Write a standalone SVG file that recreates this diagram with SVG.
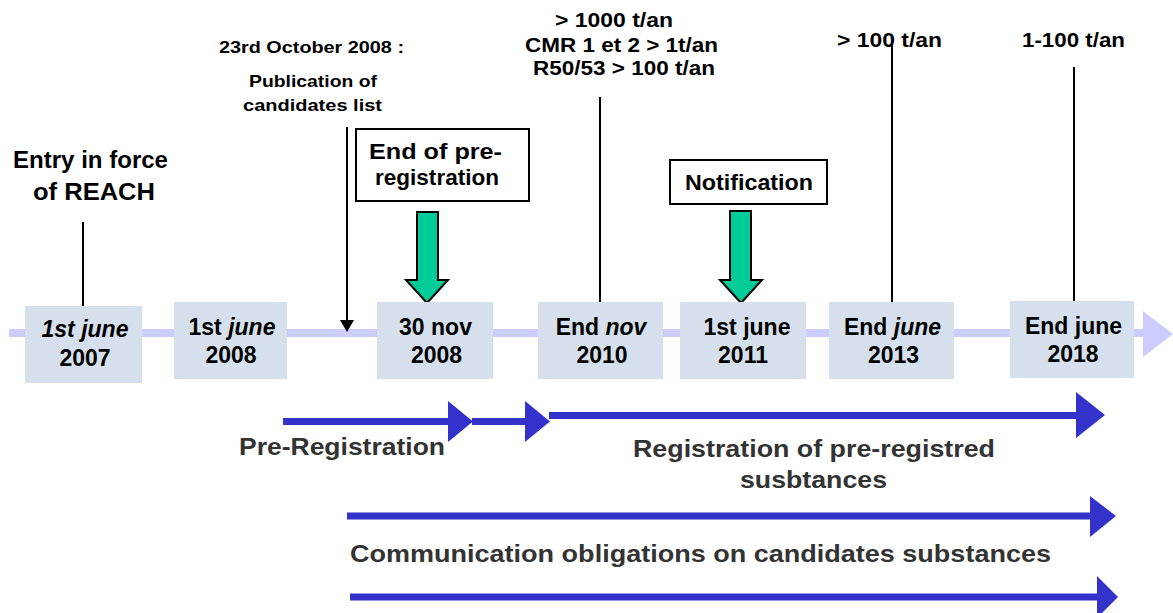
<svg xmlns="http://www.w3.org/2000/svg" width="1173" height="613" viewBox="0 0 1173 613">
<style>
text{font-family:"Liberation Sans",Arial,sans-serif;font-weight:bold;fill:#000}
.box{fill:#d6e0ec}
.dl{font-size:23px;text-anchor:middle}
.lbl{font-size:24px;fill:#333}
.top{font-size:20px}
.small{font-size:17px}
.vl{stroke:#000;stroke-width:2;fill:none}
.blue{fill:#3333cc}
.green{fill:#00cc99;stroke:#000;stroke-width:2}
.frame{fill:#fff;stroke:#000;stroke-width:2}
.it{font-style:italic}
</style>
<rect width="1173" height="613" fill="#fff"/>

<g id="timeline">
<rect x="9" y="329" width="1136" height="8" fill="#ccccff"/>
<polygon points="1143,311 1173,334 1143,357" fill="#ccccff"/>
</g>

<g id="connectors">
<line class="vl" x1="83" y1="222" x2="83" y2="306"/>
<line class="vl" x1="347" y1="127" x2="347" y2="321"/>
<polygon points="340,320 354,320 347,332" fill="#000"/>
<line class="vl" x1="600" y1="97" x2="600" y2="302"/>
<line class="vl" x1="892" y1="40" x2="892" y2="302"/>
<line class="vl" x1="1074" y1="67" x2="1074" y2="301"/>
<polygon class="green" points="417,212 438,212 438,280 448,280 427,303 406,280 417,280"/>
<polygon class="green" points="730,211 751,211 751,280 762,280 741,303 720,280 730,280"/>
<rect class="blue" x="283" y="418" width="167" height="7"/>
<polygon class="blue" points="448,401 473,421.5 448,442"/>
<rect class="blue" x="472" y="418" width="55" height="7"/>
<polygon class="blue" points="525,401 550,421.5 525,442"/>
<rect class="blue" x="549" y="412" width="529" height="7"/>
<polygon class="blue" points="1076,392 1105,415 1076,438"/>
<rect class="blue" x="347" y="512.5" width="745" height="7"/>
<polygon class="blue" points="1090,496 1116,516 1090,537"/>
<rect class="blue" x="350" y="593.5" width="749" height="7"/>
<polygon class="blue" points="1097,576 1118,597 1097,618"/>
</g>

<g id="entry-label">
<text x="13" y="168" font-size="23" textLength="155" lengthAdjust="spacingAndGlyphs">Entry in force</text>
<text x="33" y="200" font-size="23" textLength="122" lengthAdjust="spacingAndGlyphs">of REACH</text>
</g>

<g id="publication-label">
<text class="small" x="219" y="53" textLength="185" lengthAdjust="spacingAndGlyphs">23rd October 2008 :</text>
<text class="small" x="249" y="87" textLength="128" lengthAdjust="spacingAndGlyphs">Publication of</text>
<text class="small" x="243" y="111" textLength="139" lengthAdjust="spacingAndGlyphs">candidates list</text>
</g>

<g id="threshold-2010">
<text class="top" x="555" y="27" textLength="118" lengthAdjust="spacingAndGlyphs">&gt; 1000 t/an</text>
<text class="top" x="525" y="52" textLength="193" lengthAdjust="spacingAndGlyphs">CMR 1 et 2 &gt; 1t/an</text>
<text class="top" x="533" y="75" textLength="182" lengthAdjust="spacingAndGlyphs">R50/53 &gt; 100 t/an</text>
</g>

<g id="threshold-2013">
<text class="top" x="837" y="47" textLength="105" lengthAdjust="spacingAndGlyphs">&gt; 100 t/an</text>
</g>

<g id="threshold-2018">
<text class="top" x="1022" y="47" textLength="103" lengthAdjust="spacingAndGlyphs">1-100 t/an</text>
</g>

<g id="end-preregistration">
<rect class="frame" x="356" y="129" width="173" height="72"/>
<text x="369" y="159" font-size="22" textLength="133" lengthAdjust="spacingAndGlyphs">End of  pre-</text>
<text x="375" y="185" font-size="22" textLength="124" lengthAdjust="spacingAndGlyphs">registration</text>
</g>

<g id="notification">
<rect class="frame" x="670" y="160" width="157" height="44"/>
<text x="685" y="190" font-size="22" textLength="128" lengthAdjust="spacingAndGlyphs">Notification</text>
</g>

<g id="d2007">
<rect class="box" x="25" y="306" width="117" height="77"/>
<text class="dl it" x="85" y="337">1st june</text>
<text class="dl" x="85" y="366">2007</text>
</g>
<g id="d2008a">
<rect class="box" x="174" y="302" width="113" height="77"/>
<text class="dl" x="232" y="335">1st <tspan class="it">june</tspan></text>
<text class="dl" x="231" y="363">2008</text>
</g>
<g id="d2008b">
<rect class="box" x="377" y="302" width="116" height="77"/>
<text class="dl" x="435.5" y="335">30 nov</text>
<text class="dl" x="436.5" y="363">2008</text>
</g>
<g id="d2010">
<rect class="box" x="538" y="302" width="125" height="77"/>
<text class="dl" x="601" y="335">End <tspan class="it">nov</tspan></text>
<text class="dl" x="602" y="363">2010</text>
</g>
<g id="d2011">
<rect class="box" x="680" y="302" width="126" height="77"/>
<text class="dl" x="747" y="335">1st june</text>
<text class="dl" x="743" y="363">2011</text>
</g>
<g id="d2013">
<rect class="box" x="829" y="302" width="125" height="77"/>
<text class="dl" x="892.5" y="335">End <tspan class="it">june</tspan></text>
<text class="dl" x="893.5" y="363">2013</text>
</g>
<g id="d2018">
<rect class="box" x="1010" y="301" width="124" height="77"/>
<text class="dl" x="1073.5" y="334">End june</text>
<text class="dl" x="1073" y="362">2018</text>
</g>

<g id="periods">
<text class="lbl" x="239" y="455" textLength="206" lengthAdjust="spacingAndGlyphs">Pre-Registration</text>
<text class="lbl" x="633" y="457" textLength="362" lengthAdjust="spacingAndGlyphs">Registration of pre-registred</text>
<text class="lbl" x="740" y="488" textLength="147" lengthAdjust="spacingAndGlyphs">susbtances</text>
<text class="lbl" x="350" y="562" textLength="701" lengthAdjust="spacingAndGlyphs">Communication obligations on candidates substances</text>
</g>
</svg>
